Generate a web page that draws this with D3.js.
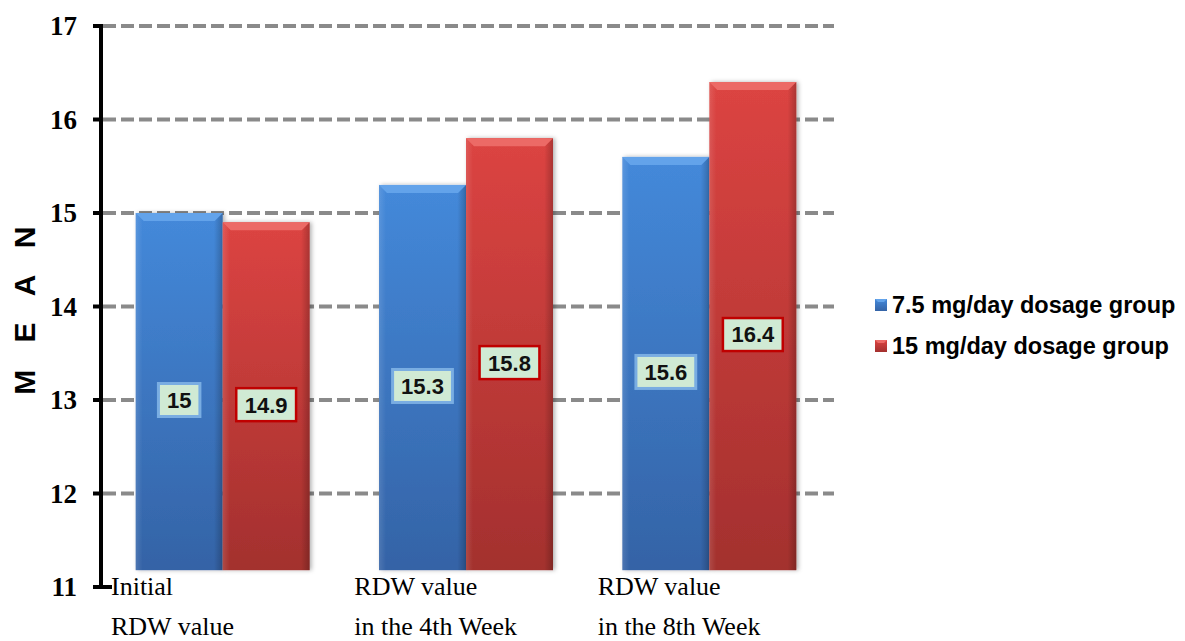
<!DOCTYPE html>
<html lang="en">
<head>
<meta charset="UTF-8">
<title>RDW mean by dosage group</title>
<script src="https://d3js.org/d3.v7.min.js"></script>
<style>
  body { margin: 0; background: #fff; }
  svg { display: block; }
  .serif { font-family: "Liberation Serif", "Times New Roman", serif; }
  .sans { font-family: "Liberation Sans", Arial, sans-serif; }
</style>
</head>
<body>
<div id="chart"></div>
<script>
// chart data
const categories = [["Initial", "RDW value"], ["RDW value", "in the 4th Week"], ["RDW value", "in the 8th Week"]];
const seriesNames = ["7.5 mg/day dosage group", "15 mg/day dosage group"];
const lowDose = [15, 15.3, 15.6];
const highDose = [14.9, 15.8, 16.4];
const yTicks = [11, 12, 13, 14, 15, 16, 17];

const width = 1185, height = 641;
const svg = d3.select("#chart").append("svg")
  .attr("width", width).attr("height", height);

const defs = svg.append("defs");
const palettes = [
  { top: "#4489da", bottom: "#3463a6", bevel: "#63a3ea", box: "#79ade2" },
  { top: "#dc4442", bottom: "#a3302e", bevel: "#ec6a66", box: "#c00000" }
];
palettes.forEach((p, i) => {
  const g = defs.append("linearGradient").attr("id", "fill" + i)
    .attr("x1", 0).attr("y1", 0).attr("x2", 0).attr("y2", 1);
  g.append("stop").attr("offset", "0%").attr("stop-color", p.top);
  g.append("stop").attr("offset", "100%").attr("stop-color", p.bottom);
});
const side = defs.append("linearGradient").attr("id", "side")
  .attr("x1", 0).attr("y1", 0).attr("x2", 1).attr("y2", 0);
side.append("stop").attr("offset", "0%").attr("stop-color", "#fff").attr("stop-opacity", 0.12);
side.append("stop").attr("offset", "8%").attr("stop-color", "#fff").attr("stop-opacity", 0);
side.append("stop").attr("offset", "90%").attr("stop-color", "#000").attr("stop-opacity", 0);
side.append("stop").attr("offset", "100%").attr("stop-color", "#000").attr("stop-opacity", 0.22);
const shadow = defs.append("filter").attr("id", "shadow")
  .attr("x", "-10%").attr("y", "-10%").attr("width", "130%").attr("height", "120%");
shadow.append("feDropShadow").attr("dx", 2).attr("dy", 0).attr("stdDeviation", 2)
  .attr("flood-color", "#000").attr("flood-opacity", 0.3);

// scales
const y = d3.scaleLinear().domain([11, 17]).range([587, 26]);
const x0 = d3.scaleBand().domain(d3.range(categories.length)).range([101, 831]).padding(0);
const x1 = d3.scaleBand().domain([0, 1])
  .range([x0.bandwidth() * 0.1425, x0.bandwidth() * 0.8575]).padding(0);
const barFloor = 11.18;

// gridlines
svg.append("g").selectAll("line")
  .data(yTicks.filter(t => t > 11))
  .join("line")
  .attr("x1", 103).attr("x2", 834)
  .attr("y1", d => y(d)).attr("y2", d => y(d))
  .attr("stroke", "#8a8a8a").attr("stroke-width", 4)
  .attr("stroke-dasharray", "13,5");

// bars
const rows = categories.map((c, i) => [lowDose[i], highDose[i]]);
const groups = svg.append("g").selectAll("g")
  .data(rows).join("g")
  .attr("transform", (d, i) => `translate(${x0(i)},0)`);

const bars = groups.selectAll("g.bar")
  .data(d => d.map((v, s) => ({ v, s })))
  .join("g").attr("class", "bar");

bars.append("rect")
  .attr("x", d => x1(d.s)).attr("width", x1.bandwidth())
  .attr("y", d => y(d.v)).attr("height", d => y(barFloor) - y(d.v))
  .attr("fill", d => `url(#fill${d.s})`)
  .attr("filter", "url(#shadow)");
bars.append("rect")
  .attr("x", d => x1(d.s)).attr("width", x1.bandwidth())
  .attr("y", d => y(d.v)).attr("height", d => y(barFloor) - y(d.v))
  .attr("fill", "url(#side)");
bars.append("path")
  .attr("d", d => {
    const l = x1(d.s), r = l + x1.bandwidth(), t = y(d.v), b = 8;
    return `M${l},${t}L${r},${t}L${r - b},${t + b}L${l + b},${t + b}Z`;
  })
  .attr("fill", d => palettes[d.s].bevel);

// value labels
const labels = bars.append("g")
  .attr("transform", d => `translate(${x1(d.s) + x1.bandwidth() / 2},${(y(d.v) + y(11)) / 2})`);
labels.append("text")
  .attr("class", "sans")
  .attr("text-anchor", "middle").attr("dy", "0.36em")
  .attr("font-weight", "bold").attr("font-size", 22)
  .attr("fill", "#111")
  .text(d => d.v);
labels.each(function (d) {
  const g = d3.select(this);
  const w = g.select("text").node().getComputedTextLength() + 17;
  g.insert("rect", "text")
    .attr("x", -w / 2).attr("y", -16.5).attr("width", w).attr("height", 33)
    .attr("fill", "#d0ead4")
    .attr("stroke", palettes[d.s].box)
    .attr("stroke-width", d.s === 0 ? 3 : 2.5);
});

// y axis
const axis = svg.append("g");
axis.append("line")
  .attr("x1", 101).attr("x2", 101).attr("y1", y(17) - 2).attr("y2", y(11) + 2)
  .attr("stroke", "#000").attr("stroke-width", 4);
axis.selectAll("line.tick")
  .data(yTicks).join("line").attr("class", "tick")
  .attr("x1", 93).attr("x2", d => d === 11 ? 112 : 101)
  .attr("y1", d => y(d)).attr("y2", d => y(d))
  .attr("stroke", "#000").attr("stroke-width", 4);
axis.selectAll("text")
  .data(yTicks).join("text")
  .attr("class", "serif")
  .attr("x", 77).attr("y", d => y(d)).attr("dy", "0.34em")
  .attr("text-anchor", "end")
  .attr("font-weight", "bold").attr("font-size", 27)
  .text(d => d);

// y title
svg.append("text")
  .attr("class", "sans")
  .attr("transform", "translate(35,311) rotate(-90)")
  .attr("text-anchor", "middle")
  .attr("font-weight", "bold").attr("font-size", 30)
  .attr("letter-spacing", 9.5)
  .attr("dx", 5)
  .text("M E A N");

// x labels
const xl = svg.append("g").selectAll("text")
  .data(categories).join("text")
  .attr("class", "serif")
  .attr("x", (d, i) => x0(i) + 10)
  .attr("y", 595)
  .attr("font-size", 26)
  .attr("fill", "#000");
xl.selectAll("tspan")
  .data(d => d).join("tspan")
  .attr("x", function () { return d3.select(this.parentNode).attr("x"); })
  .attr("dy", (d, i) => i === 0 ? 0 : 40)
  .text(d => d);

// legend
const legend = svg.append("g").selectAll("g")
  .data(seriesNames).join("g")
  .attr("transform", (d, i) => `translate(875,${305 + i * 41})`);
legend.append("rect")
  .attr("x", 0).attr("y", -6).attr("width", 12).attr("height", 12)
  .attr("fill", (d, i) => `url(#fill${i})`);
legend.append("path")
  .attr("d", "M0,-6L12,-6L9,-3L3,-3Z")
  .attr("fill", (d, i) => palettes[i].bevel);
legend.append("text")
  .attr("class", "sans")
  .attr("x", 17).attr("dy", "0.36em")
  .attr("font-weight", "bold").attr("font-size", 23.5)
  .text(d => d);
</script>
</body>
</html>
